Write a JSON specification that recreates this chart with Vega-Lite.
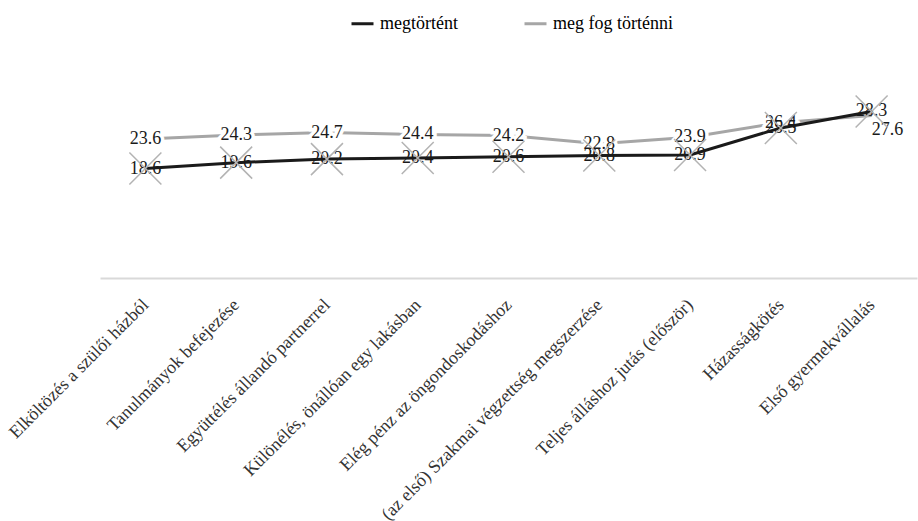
{
  "$schema": "https://vega.github.io/schema/vega-lite/v6.json",
  "width": 817,
  "height": 206,
  "autosize": {"type": "none"},
  "padding": {"left": 100, "top": 72, "right": 1, "bottom": 243},
  "background": "white",
  "config": {
    "view": {"stroke": null},
    "font": "Liberation Serif",
    "legend": {"labelFont": "Liberation Serif", "labelFontSize": 18, "labelColor": "#000000"},
    "axis": {"labelFont": "Liberation Serif"},
    "text": {"font": "Liberation Serif"}
  },
  "data": {
    "values": [
      {"kat": "Elköltözés a szülői házból", "sorozat": "megtörtént", "ertek": 18.6},
      {"kat": "Tanulmányok befejezése", "sorozat": "megtörtént", "ertek": 19.6},
      {"kat": "Együttélés állandó partnerrel", "sorozat": "megtörtént", "ertek": 20.2},
      {"kat": "Különélés, önállóan egy lakásban", "sorozat": "megtörtént", "ertek": 20.4},
      {"kat": "Elég pénz az öngondoskodáshoz", "sorozat": "megtörtént", "ertek": 20.6},
      {"kat": "(az első) Szakmai végzettség megszerzése", "sorozat": "megtörtént", "ertek": 20.8},
      {"kat": "Teljes álláshoz jutás (először)", "sorozat": "megtörtént", "ertek": 20.9},
      {"kat": "Házasságkötés", "sorozat": "megtörtént", "ertek": 25.5},
      {"kat": "Első gyermekvállalás", "sorozat": "megtörtént", "ertek": 28.3},
      {"kat": "Elköltözés a szülői házból", "sorozat": "meg fog történni", "ertek": 23.6},
      {"kat": "Tanulmányok befejezése", "sorozat": "meg fog történni", "ertek": 24.3},
      {"kat": "Együttélés állandó partnerrel", "sorozat": "meg fog történni", "ertek": 24.7},
      {"kat": "Különélés, önállóan egy lakásban", "sorozat": "meg fog történni", "ertek": 24.4},
      {"kat": "Elég pénz az öngondoskodáshoz", "sorozat": "meg fog történni", "ertek": 24.2},
      {"kat": "(az első) Szakmai végzettség megszerzése", "sorozat": "meg fog történni", "ertek": 22.8},
      {"kat": "Teljes álláshoz jutás (először)", "sorozat": "meg fog történni", "ertek": 23.9},
      {"kat": "Házasságkötés", "sorozat": "meg fog történni", "ertek": 26.4},
      {"kat": "Első gyermekvállalás", "sorozat": "meg fog történni", "ertek": 27.6}
    ]
  },
  "encoding": {
    "x": {
      "field": "kat",
      "type": "nominal",
      "sort": null,
      "scale": {"type": "point", "padding": 0.5},
      "axis": {
        "title": null,
        "labelAngle": -45,
        "labelAlign": "right",
        "labelBaseline": "middle",
        "labelFont": "Liberation Serif",
        "labelFontSize": 18,
        "labelColor": "#333333",
        "labelLimit": 0,
        "labelOverlap": false,
        "labelPadding": 24,
        "ticks": false,
        "grid": false,
        "domainColor": "#d9d9d9",
        "domainWidth": 2
      }
    },
    "y": {
      "field": "ertek",
      "type": "quantitative",
      "scale": {"domain": [0, 35]},
      "axis": null
    }
  },
  "layer": [
    {
      "transform": [{"filter": "datum.sorozat === 'meg fog történni'"}],
      "mark": {"type": "line", "strokeWidth": 3},
      "encoding": {
        "color": {
          "field": "sorozat",
          "type": "nominal",
          "scale": {"domain": ["megtörtént", "meg fog történni"], "range": ["#1a1a1a", "#a6a6a6"]},
          "legend": {
            "orient": "none",
            "legendX": 250,
            "legendY": -61,
            "direction": "horizontal",
            "title": null,
            "symbolType": "stroke",
            "symbolSize": 484,
            "symbolStrokeWidth": 3,
            "labelFont": "Liberation Serif",
            "labelFontSize": 18,
            "labelColor": "#000000",
            "labelOffset": 5,
            "columnPadding": 60
          }
        }
      }
    },
    {
      "transform": [{"filter": "datum.sorozat === 'meg fog történni' && datum.kat !== 'Első gyermekvállalás'"}],
      "mark": {"type": "text", "fontSize": 18, "font": "Liberation Serif", "fill": "white", "stroke": "white", "strokeWidth": 7, "baseline": "middle", "align": "center"},
      "encoding": {"text": {"field": "ertek", "type": "quantitative", "format": ".1f"}}
    },
    {
      "transform": [{"filter": "datum.sorozat === 'meg fog történni' && datum.kat !== 'Első gyermekvállalás'"}],
      "mark": {"type": "text", "fontSize": 18, "font": "Liberation Serif", "color": "#1a1a1a", "baseline": "middle", "align": "center"},
      "encoding": {"text": {"field": "ertek", "type": "quantitative", "format": ".1f"}}
    },
    {
      "transform": [{"filter": "datum.sorozat === 'megtörtént'"}],
      "mark": {"type": "text", "fontSize": 18, "font": "Liberation Serif", "color": "#1a1a1a", "baseline": "middle", "align": "center"},
      "encoding": {"text": {"field": "ertek", "type": "quantitative", "format": ".1f"}}
    },
    {
      "transform": [{"filter": "datum.sorozat === 'megtörtént'"}],
      "mark": {"type": "line", "strokeWidth": 3},
      "encoding": {
        "color": {"field": "sorozat", "type": "nominal", "scale": {"domain": ["megtörtént", "meg fog történni"], "range": ["#1a1a1a", "#a6a6a6"]}}
      }
    },
    {
      "transform": [{"filter": "datum.sorozat === 'meg fog történni' && datum.kat === 'Első gyermekvállalás'"}],
      "mark": {"type": "text", "fontSize": 18, "font": "Liberation Serif", "color": "#1a1a1a", "baseline": "middle", "align": "center", "dx": 16, "dy": 14},
      "encoding": {"text": {"field": "ertek", "type": "quantitative", "format": ".1f"}}
    },
    {
      "transform": [{"filter": "datum.sorozat === 'megtörtént'"}],
      "mark": {"type": "point", "shape": "M-1,-1L1,1M-1,1L1,-1", "size": 1024, "filled": false, "color": "#b3b3b3", "strokeWidth": 1.5, "opacity": 1},
      "encoding": {}
    }
  ]
}
